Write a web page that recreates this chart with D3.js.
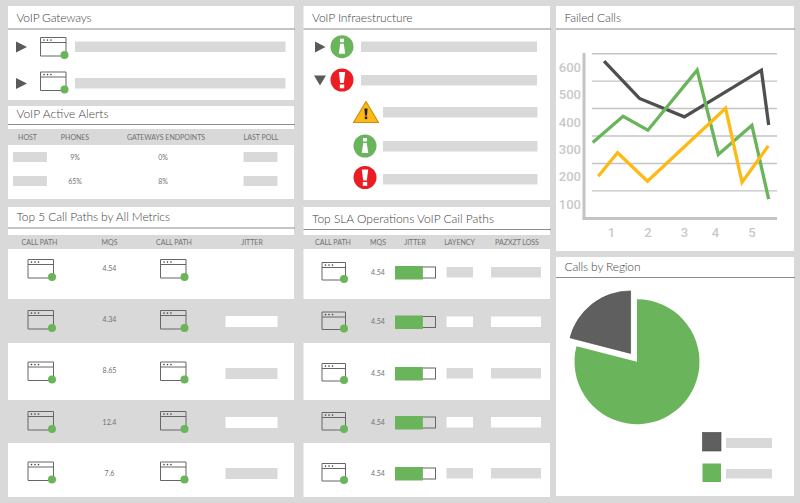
<!DOCTYPE html>
<html>
<head>
<meta charset="utf-8">
<script src="https://cdn.jsdelivr.net/npm/d3@7"></script>
<style>
  html, body { margin: 0; padding: 0; background: #d9d9d9; }
  svg { display: block; }
  text { font-family: Lato, sans-serif; }
</style>
</head>
<body>
<svg id="dash" width="800" height="503"></svg>
<script>
// failed calls chart
const yTicks = [100, 200, 300, 400, 500, 600];
const gridValues = [150, 250, 350, 450, 550, 650];
const xTickLabels = ["1", "2", "3", "4", "5"];
const xTickValues = [1, 2, 3, 3.85, 4.85];
const darkX = [0.81, 1.78, 3.01, 5.12, 5.32];
const darkY = [623, 487, 420, 590, 390];
const greenX = [0.5, 1.33, 2.01, 3.36, 3.94, 4.86, 5.32];
const greenY = [326, 422, 371, 590, 283, 389, 120];
const yellowX = [0.65, 1.18, 2.0, 4.14, 4.59, 5.31];
const yellowY = [203, 289, 185, 451, 181, 314];

// calls by region
const regionValues = [79, 21];

// tables
const alertHeaders = ["HOST", "PHONES", "GATEWAYS ENDPOINTS", "LAST POLL"];
const alertPhones = ["9%", "65%"];
const alertGateways = ["0%", "8%"];
const top5Headers = ["CALL PATH", "MQS", "CALL PATH", "JITTER"];
const top5Mqs = ["4.54", "4.34", "8.65", "12.4", "7.6"];
const slaHeaders = ["CALL PATH", "MQS", "JITTER", "LAYENCY", "PAZXZT LOSS"];
const slaMqs = ["4.54", "4.54", "4.54", "4.54", "4.54"];

const GREY = "#d9d9d9", GREEN = "#6ab55b", DARK = "#4f4f4f", YELLOW = "#fdba16", RED = "#ec1c24";
const svg = d3.select("#dash");

function rect(x0, y0, x1, y1, fill) {
    return svg.append("rect").attr("x", x0).attr("y", y0)
        .attr("width", x1 - x0).attr("height", y1 - y0).attr("fill", fill);
}

function label(str, x, y, size, color, anchor) {
    return svg.append("text").attr("x", x).attr("y", y)
        .attr("font-size", size).attr("fill", color)
        .attr("text-anchor", anchor || "middle").text(str);
}

function colLabel(str, x, y) {
    return label(str, x, y, 7, "#707070");
}

function panel(x0, y0, x1, y1, title, lineY, titleW) {
    rect(x0, y0, x1, y1, "#fff");
    label(title, x0 + 8.5, lineY - 7, 12, "#444", "start")
        .attr("font-weight", 300)
        .attr("textLength", titleW).attr("lengthAdjust", "spacing");
    rect(x0, lineY - 0.5, x1 + 1, lineY + 0.5, "#8c8c8c");
}

function windowIcon(x, y, w, h) {
    const g = svg.append("g").attr("transform", "translate(" + x + "," + y + ")");
    g.append("path").attr("d", "M0,0H" + w + "V" + h + "H0Z M0,5H" + w)
        .attr("fill", "none").attr("stroke", "#666").attr("stroke-width", 1);
    [3.5, 7, 10.5].forEach(cx => g.append("circle").attr("cx", cx).attr("cy", 2.6).attr("r", 0.8).attr("fill", "#444"));
    g.append("circle").attr("cx", w - 1.5).attr("cy", h - 1).attr("r", 4).attr("fill", GREEN);
}

function arrowRight(x, y, w, h) {
    svg.append("path").attr("fill", "#5a5a5a")
        .attr("d", "M" + x + "," + y + "L" + (x + w) + "," + (y + h / 2) + "L" + x + "," + (y + h) + "Z");
}

function infoIcon(cx, cy) {
    const g = svg.append("g").attr("transform", "translate(" + cx + "," + cy + ")");
    g.append("circle").attr("r", 11.5).attr("fill", GREEN);
    g.append("rect").attr("x", -2).attr("y", -8).attr("width", 4).attr("height", 3.5).attr("fill", "#fff");
    g.append("path").attr("d", "M-1.8,-3H1.8L3.2,7H-3.2Z").attr("fill", "#fff");
}

function errorIcon(cx, cy) {
    const g = svg.append("g").attr("transform", "translate(" + cx + "," + cy + ")");
    g.append("circle").attr("r", 11.5).attr("fill", RED);
    g.append("path").attr("d", "M-3.2,-8H3.2L1.8,3H-1.8Z").attr("fill", "#fff");
    g.append("rect").attr("x", -2.2).attr("y", 4.5).attr("width", 4.4).attr("height", 3.8).attr("fill", "#fff");
}

function warnIcon(cx, y0) {
    const g = svg.append("g").attr("transform", "translate(" + cx + "," + y0 + ")");
    g.append("path").attr("d", "M0,1L12.5,22H-12.5Z").attr("fill", YELLOW)
        .attr("stroke", "#c8900f").attr("stroke-width", 1.2).attr("stroke-linejoin", "round");
    g.append("path").attr("d", "M-1.6,8H1.6L1,15H-1Z").attr("fill", "#222");
    g.append("rect").attr("x", -1.2).attr("y", 16).attr("width", 2.4).attr("height", 2.6).attr("fill", "#222");
}

// --- VoIP Gateways
panel(8, 6, 294, 100, "VoIP Gateways", 29, 75);
[41.5, 78].forEach((y, i) => {
    arrowRight(16, y, 11, 11);
    windowIcon(40.5, 37.5 + i * 34.5, 25.5, 18.5);
    rect(75, y, 285.5, y + 10.5, GREY);
});

// --- VoIP Active Alerts
panel(8, 106, 294, 129, "VoIP Active Alerts", 124.5, 92);
rect(8, 145, 294, 199, "#fff");
const alertHeadX = [27.5, 75, 166, 261];
alertHeaders.forEach((h, i) => colLabel(h, alertHeadX[i], 139.5));
[152, 176].forEach((y, i) => {
    rect(13, y, 47, y + 10, GREY);
    rect(243.5, y, 277.5, y + 10, GREY);
    colLabel(alertPhones[i], 75, y + 7.5);
    colLabel(alertGateways[i], 163, y + 7.5);
});

// --- Top 5 Call Paths
const rowBands = [[249, 299], [343, 400], [443, 497]];
const iconY = [259.5, 310.5, 362, 411.5, 462];
const mqsY = [271, 322, 373, 425, 476];

panel(8, 207, 294, 235, "Top 5 Call Paths by All Metrics", 228, 153.5);
rowBands.forEach(b => rect(8, b[0], 294, b[1], "#fff"));
const top5HeadX = [39.5, 109.5, 174, 252];
top5Headers.forEach((h, i) => colLabel(h, top5HeadX[i], 244.5));
const jitterY = [null, 316, 368, 417, 468];
top5Mqs.forEach((m, i) => {
    windowIcon(28, iconY[i], 25.5, 18.5);
    windowIcon(160.5, iconY[i], 25.5, 18.5);
    colLabel(m, 109.5, mqsY[i]);
    if (jitterY[i] !== null) {
        rect(225.5, jitterY[i], 277.5, jitterY[i] + 11, i % 2 ? "#fff" : GREY);
    }
});

// --- VoIP Infrastructure
panel(303.5, 6, 550, 200, "VoIP Infraestructure", 29, 100.5);
arrowRight(315, 41.5, 10.5, 11);
svg.append("path").attr("fill", "#5a5a5a").attr("d", "M314,75.5H326L320,85.5Z");
infoIcon(342, 46.7);
errorIcon(342, 80);
warnIcon(366, 100.5);
infoIcon(365, 146);
errorIcon(365, 177.5);
rect(361, 41.5, 537, 52, GREY);
rect(361, 75, 537, 85.5, GREY);
[107, 141, 174].forEach(y => rect(383, y, 537.5, y + 10.5, GREY));

// --- Top SLA Operations
panel(303.5, 207, 550, 235, "Top SLA Operations VoIP Cail Paths", 229.5, 182);
rowBands.forEach(b => rect(303.5, b[0], 550, b[1], "#fff"));
const slaHeadX = [333, 378, 415, 459.5, 517];
slaHeaders.forEach((h, i) => colLabel(h, slaHeadX[i], 244.5));
const slaRowY = [267, 316.5, 368, 417, 468];
const jitterFill = d3.scaleLinear().domain([0, 1]).range([395, 436]);
slaMqs.forEach((m, i) => {
    const y = slaRowY[i], cell = i % 2 ? "#fff" : GREY;
    windowIcon(322, y - 4.5, 23.5, 17.5);
    colLabel(m, 378, y + 7.5);
    rect(395.5, y, 435.5, y + 11, "none").attr("stroke", "#666").attr("stroke-width", 1);
    rect(395, y - 1, jitterFill(0.68), y + 12.5, GREEN);
    rect(446.5, y, 473, y + 10.5, cell);
    rect(491, y, 541, y + 10.5, cell);
});

// --- Failed Calls
panel(556, 6, 794, 251, "Failed Calls", 29, 56.5);
const x = d3.scaleLinear().domain([1, 5]).range([611, 757]);
const y = d3.scaleLinear().domain([50, 650]).range([218.3, 53.7]);

svg.append("g").selectAll("line").data(gridValues).join("line")
    .attr("x1", 592).attr("x2", 777)
    .attr("y1", d => y(d)).attr("y2", d => y(d))
    .attr("stroke", "#c4c4c4").attr("stroke-width", 1.4);

const yAxis = svg.append("g").attr("transform", "translate(581,-0.4)")
    .call(d3.axisLeft(y).tickValues(yTicks).tickSize(0).tickPadding(0));
const xAxis = svg.append("g").attr("transform", "translate(0,219)")
    .call(d3.axisBottom(x).tickValues(xTickValues).tickSize(0).tickPadding(9)
        .tickFormat((d, i) => xTickLabels[i]));
[yAxis, xAxis].forEach(a => {
    a.select(".domain").remove();
    a.selectAll("text").attr("fill", "#c9c9c9").attr("font-size", 13)
        .style("font-family", "Roboto, sans-serif").attr("font-weight", 500);
});

rect(582.5, 53, 585.5, 220, "#c4c4c4");
rect(582.5, 217, 777, 220, "#c4c4c4");

const line = d3.line().x(d => x(d[0])).y(d => y(d[1]));
[[darkX, darkY, DARK], [greenX, greenY, GREEN], [yellowX, yellowY, YELLOW]].forEach(s => {
    svg.append("path").datum(d3.zip(s[0], s[1])).attr("d", line)
        .attr("fill", "none").attr("stroke", s[2]).attr("stroke-width", 3.3);
});

// --- Calls by Region
panel(556, 257, 794, 496, "Calls by Region", 277.5, 76);
const pieColors = [GREEN, "#5f5f5f"];
const arcs = d3.pie().sort(null)(regionValues);
const arc = d3.arc().innerRadius(0).outerRadius(62.5);
svg.append("g").attr("transform", "translate(637,361.7)")
    .selectAll("path").data(arcs).join("path")
    .attr("d", arc)
    .attr("fill", (d, i) => pieColors[i])
    .attr("stroke", (d, i) => i ? "#444" : "none")
    .attr("stroke-width", 0.6)
    .attr("transform", (d, i) => {
        if (!i) return null;
        const mid = (d.startAngle + d.endAngle) / 2;
        return "translate(" + Math.sin(mid) * 10.5 + "," + (-Math.cos(mid) * 10.5) + ")";
    });

rect(702.5, 432.5, 721, 451, "#5f5f5f").attr("stroke", "#444").attr("stroke-width", 0.6);
rect(726, 438, 772, 448, GREY);
rect(702.5, 463.5, 721, 482, GREEN);
rect(726, 469, 772, 478.5, GREY);
</script>
</body>
</html>
